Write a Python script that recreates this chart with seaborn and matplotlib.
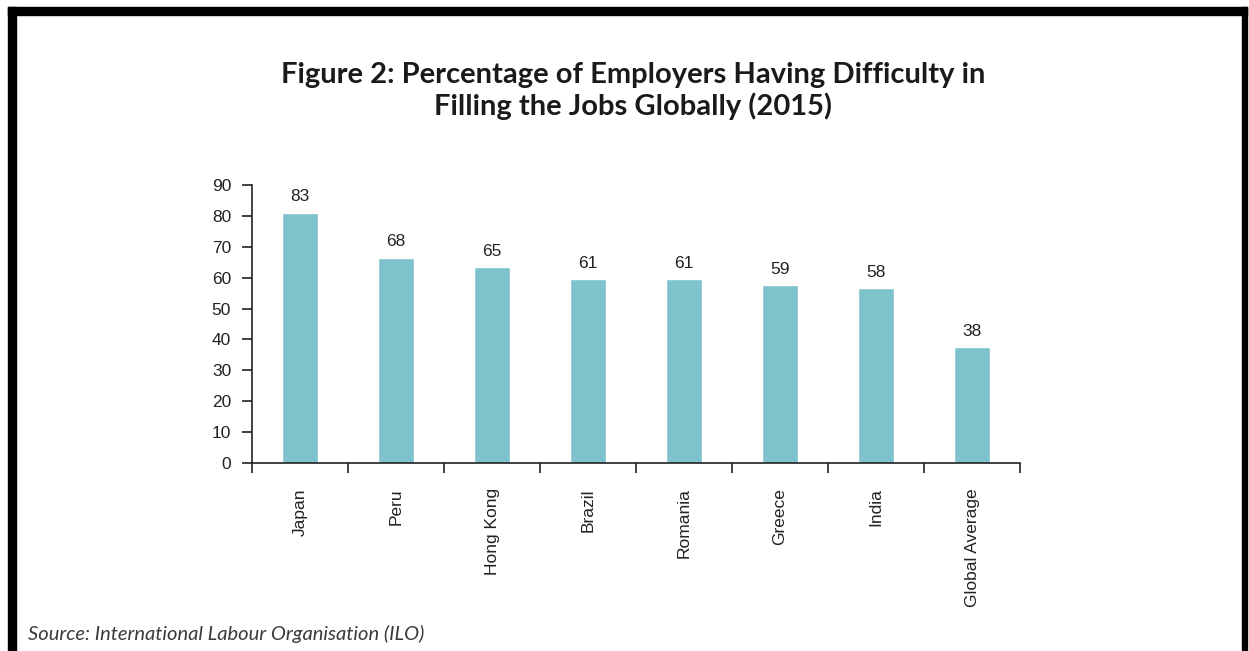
import matplotlib
matplotlib.use("Agg")
import matplotlib.pyplot as plt
import seaborn as sns
import pandas as pd
from matplotlib.patches import Rectangle

categories = ["Japan", "Peru", "Hong Kong", "Brazil", "Romania", "Greece", "India", "Global Average"]
bar_values = [81, 66.5, 63.5, 59.5, 59.5, 57.5, 56.5, 37.5]
value_labels = ["83", "68", "65", "61", "61", "59", "58", "38"]
y_ticks = [0, 10, 20, 30, 40, 50, 60, 70, 80, 90]

sns.set_style("white")
plt.rcParams['font.family'] = ['Liberation Sans', 'DejaVu Sans']

W, H = 1249, 651
fig = plt.figure(figsize=(W / 100, H / 100), dpi=100)
ax = fig.add_axes([252 / W, 1 - 463 / H, (1020 - 252) / W, (463 - 185) / H])

df = pd.DataFrame({"cat": categories, "val": bar_values})
sns.barplot(data=df, x="cat", y="val", color="#7EC3CB", saturation=1, width=0.375, ax=ax)

ax.set_xlim(-0.5, len(categories) - 0.5)
ax.set_ylim(0, 90)
ax.set_yticks(y_ticks)
ax.set_yticklabels([str(t) for t in y_ticks], fontsize=12.5, color="#222222")
ax.set_xticks([i - 0.5 for i in range(len(categories) + 1)])
ax.set_xticklabels([])
ax.set_xticks(range(len(categories)), minor=True)
ax.set_xticklabels(categories, minor=True, rotation=90, fontsize=12.5, color="#222222")
ax.tick_params(axis="x", which="minor", bottom=True, length=0, pad=18)
ax.tick_params(axis="x", which="major", bottom=True, length=7, width=1.2, color="#222222", direction="out")
ax.tick_params(axis="y", left=True, length=7, width=1.2, color="#222222", direction="out", pad=8)
ax.set_xlabel("")
ax.set_ylabel("")
for s in ["top", "right"]:
    ax.spines[s].set_visible(False)
for s in ["left", "bottom"]:
    ax.spines[s].set_color("#222222")
    ax.spines[s].set_linewidth(1.2)

for i, (v, lab) in enumerate(zip(bar_values, value_labels)):
    ax.annotate(lab, (i, v), xytext=(0, 6), textcoords="offset points",
                ha="center", va="bottom", fontsize=12.5, color="#222222")

fig.text(633 / W, 1 - 75 / H, "Figure 2: Percentage of Employers Having Difficulty in",
         ha="center", va="center", fontsize=21, fontweight="bold", family="Lato", color="#1a1a1a")
fig.text(633 / W, 1 - 106 / H, "Filling the Jobs Globally (2015)",
         ha="center", va="center", fontsize=21, fontweight="bold", family="Lato", color="#1a1a1a")
fig.text(28 / W, 1 - 634 / H, "Source: International Labour Organisation (ILO)",
         ha="left", va="center", fontsize=14.5, style="italic", family="Lato", color="#3a3a3a")

# black frame
fig.patches.append(Rectangle((8 / W, 1 - 15 / H), (1247 - 8) / W, 8 / H,
                             transform=fig.transFigure, color="black", zorder=10))
fig.patches.append(Rectangle((8 / W, 0), 8 / W, 1 - 7 / H,
                             transform=fig.transFigure, color="black", zorder=10))
fig.patches.append(Rectangle((1242 / W, 0), 5 / W, 1 - 7 / H,
                             transform=fig.transFigure, color="black", zorder=10))

fig.savefig("out.png", dpi=100, facecolor="white")
